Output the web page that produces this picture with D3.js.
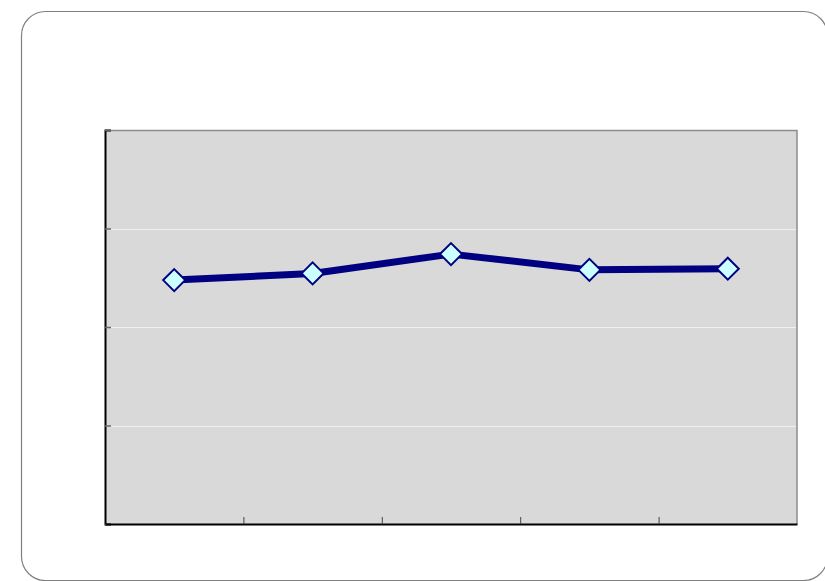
<!DOCTYPE html>
<html>
<head>
<meta charset="utf-8">
<script src="https://cdn.jsdelivr.net/npm/d3@7"></script>
<style>
  html, body { margin: 0; padding: 0; background: #fff; }
  svg { display: block; }
</style>
</head>
<body>
<main></main>
<script>
'use strict';

// five categories, no labels shown in the chart
const categories = ['A', 'B', 'C', 'D', 'E'];
const values = [61.9, 63.6, 68.5, 64.5, 64.8];
const yTicks = [0, 25, 50, 75, 100];

const W = 825, H = 581;
const plot = { left: 105, top: 130, right: 797, bottom: 524 };

const svg = d3.select('main')
  .append('svg')
  .attr('width', W)
  .attr('height', H);

// outer rounded frame
svg.append('rect')
  .attr('x', 21.5)
  .attr('y', 11.5)
  .attr('width', 806)
  .attr('height', 569)
  .attr('rx', 24)
  .attr('fill', '#fff')
  .attr('stroke', '#808080')
  .attr('stroke-width', 1.2);

const x = d3.scaleBand()
  .domain(categories)
  .range([plot.left, plot.right]);

const y = d3.scaleLinear()
  .domain([0, 100])
  .range([plot.bottom, plot.top]);

// plot area
svg.append('rect')
  .attr('x', plot.left)
  .attr('y', plot.top)
  .attr('width', plot.right - plot.left)
  .attr('height', plot.bottom - plot.top)
  .attr('fill', '#d9d9d9');

// gridlines
svg.append('g')
  .selectAll('line')
  .data(yTicks.slice(1, -1))
  .enter()
  .append('line')
  .attr('x1', plot.left)
  .attr('x2', plot.right)
  .attr('y1', d => Math.round(y(d)) + 0.5)
  .attr('y2', d => Math.round(y(d)) + 0.5)
  .attr('stroke', '#f0f0f0')
  .attr('stroke-width', 1);

// top and right border
svg.append('path')
  .attr('d', `M${plot.left},${plot.top + 0.5}H${plot.right}V${plot.bottom}`)
  .attr('fill', 'none')
  .attr('stroke', '#8c8c8c')
  .attr('stroke-width', 1.5);

// y axis, ticks point inward
const yAxis = d3.axisRight(y)
  .tickValues(yTicks)
  .tickSize(6)
  .tickFormat('');

svg.append('g')
  .attr('transform', `translate(${plot.left},0)`)
  .call(yAxis)
  .call(g => g.select('.domain').attr('stroke', '#000').attr('stroke-width', 2))
  .call(g => g.selectAll('.tick line').attr('stroke', '#666').attr('stroke-width', 1.5));

// x axis, ticks on category boundaries pointing up
const xBounds = categories.slice(1).map(c => x(c));
const xAxis = d3.axisTop(d3.scaleLinear().domain([plot.left, plot.right]).range([plot.left, plot.right]))
  .tickValues(xBounds)
  .tickSize(7)
  .tickSizeOuter(0)
  .tickFormat('');

svg.append('g')
  .attr('transform', `translate(0,${plot.bottom})`)
  .call(xAxis)
  .call(g => g.select('.domain').attr('stroke', '#000').attr('stroke-width', 2))
  .call(g => g.selectAll('.tick line').attr('stroke', '#444').attr('stroke-width', 1));

// series line
const line = d3.line()
  .x((d, i) => x(categories[i]) + x.bandwidth() / 2)
  .y(d => y(d));

svg.append('path')
  .datum(values)
  .attr('d', line)
  .attr('fill', 'none')
  .attr('stroke', '#000080')
  .attr('stroke-width', 7)
  .attr('stroke-linejoin', 'round');

// diamond markers
svg.append('g')
  .selectAll('path')
  .data(values)
  .enter()
  .append('path')
  .attr('transform', (d, i) => `translate(${x(categories[i]) + x.bandwidth() / 2},${y(d)})`)
  .attr('d', 'M0,-11L11,0L0,11L-11,0Z')
  .attr('fill', '#ccffff')
  .attr('stroke', '#000080')
  .attr('stroke-width', 2);
</script>
</body>
</html>
